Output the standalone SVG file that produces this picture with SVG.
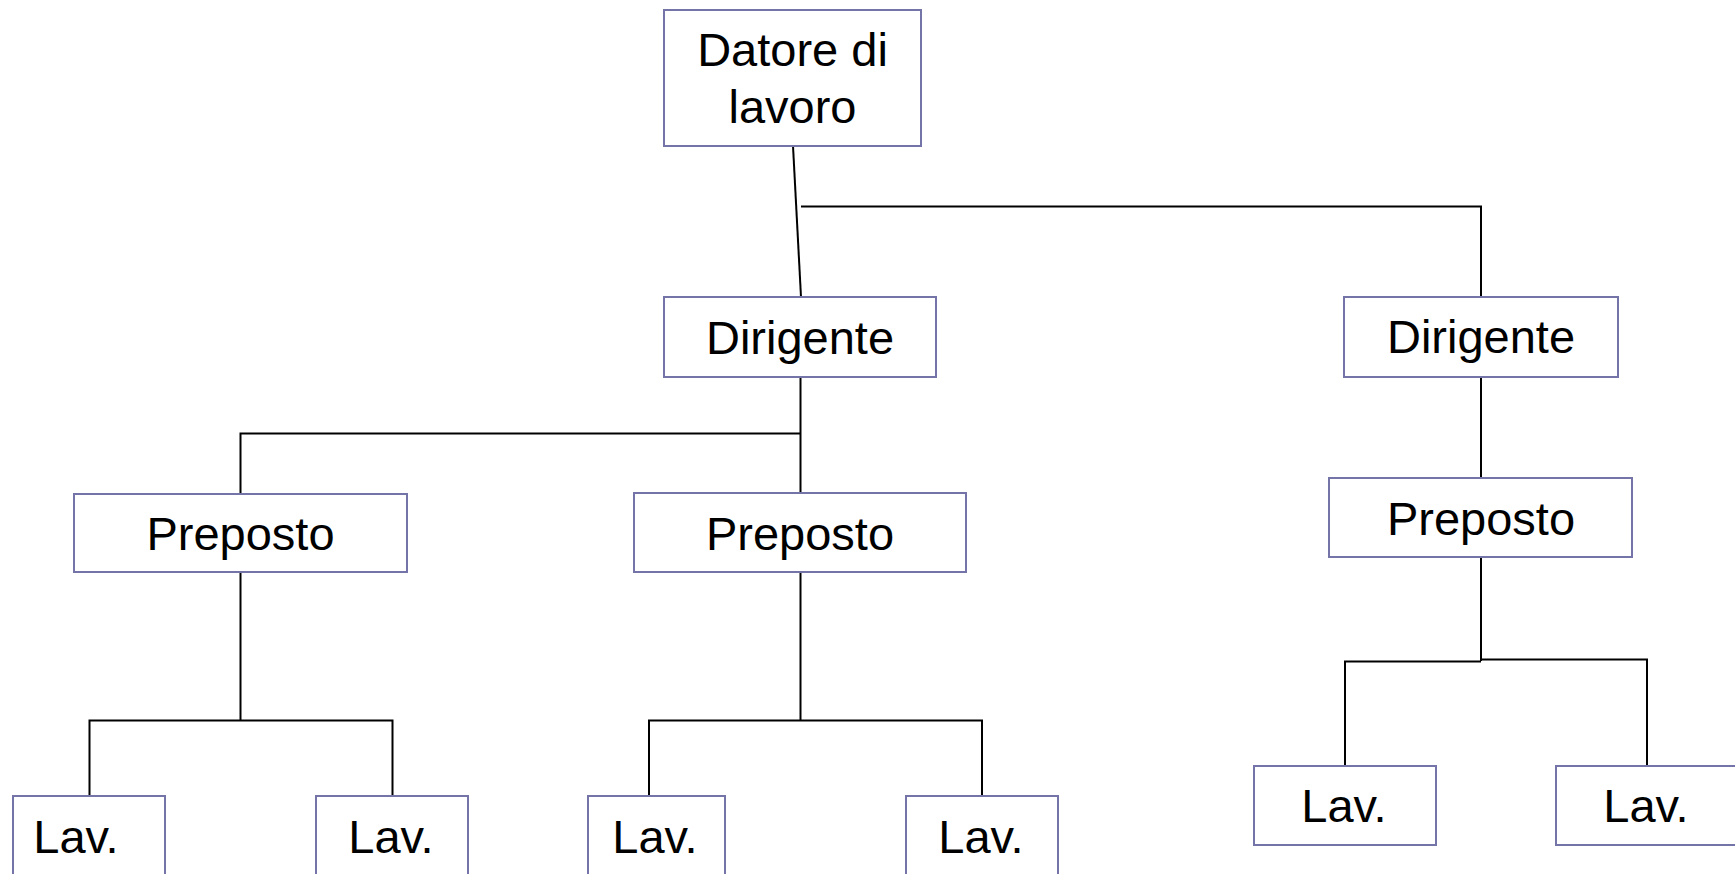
<svg xmlns="http://www.w3.org/2000/svg" width="1735" height="874" viewBox="0 0 1735 874">
<style>
.box{fill:#ffffff;stroke:#7474a8;stroke-width:2}
.lbl{font-family:"Liberation Sans",Arial,sans-serif;font-size:47px;fill:#000000;text-anchor:middle}
.con{fill:none;stroke:#000000;stroke-width:2}
</style>
<rect x="0" y="0" width="1735" height="874" fill="#ffffff"/>
<g id="connectors">
<line class="con" x1="793" y1="146" x2="801" y2="297"/>
<polyline class="con" points="801,206.5 1481,206.5 1481,297"/>
<line class="con" x1="800.5" y1="377" x2="800.5" y2="493"/>
<polyline class="con" points="800.5,433.5 240.5,433.5 240.5,494"/>
<line class="con" x1="240.5" y1="572" x2="240.5" y2="720"/>
<polyline class="con" points="89.5,796 89.5,720.5 392.5,720.5 392.5,796"/>
<line class="con" x1="800.5" y1="572" x2="800.5" y2="720"/>
<polyline class="con" points="649,796 649,720.5 982,720.5 982,796"/>
<line class="con" x1="1481" y1="377" x2="1481" y2="478"/>
<line class="con" x1="1481" y1="557" x2="1481" y2="661"/>
<polyline class="con" points="1345,766 1345,661.5 1481,661.5"/>
<polyline class="con" points="1481,659.5 1647,659.5 1647,766"/>
</g>
<g id="datore">
<rect class="box" x="664" y="10" width="257" height="136"/>
<text class="lbl" x="792.5" y="66">Datore di</text>
<text class="lbl" x="792.5" y="123">lavoro</text>
</g>
<g id="dirigente1">
<rect class="box" x="664" y="297" width="272" height="80"/>
<text class="lbl" x="800" y="354">Dirigente</text>
</g>
<g id="dirigente2">
<rect class="box" x="1344" y="297" width="274" height="80"/>
<text class="lbl" x="1481" y="353">Dirigente</text>
</g>
<g id="preposto1">
<rect class="box" x="74" y="494" width="333" height="78"/>
<text class="lbl" x="240.5" y="550">Preposto</text>
</g>
<g id="preposto2">
<rect class="box" x="634" y="493" width="332" height="79"/>
<text class="lbl" x="800" y="550">Preposto</text>
</g>
<g id="preposto3">
<rect class="box" x="1329" y="478" width="303" height="79"/>
<text class="lbl" x="1481" y="535">Preposto</text>
</g>
<g id="lav1">
<rect class="box" x="13" y="796" width="152" height="90"/>
<text class="lbl" x="76" y="853">Lav.</text>
</g>
<g id="lav2">
<rect class="box" x="316" y="796" width="152" height="90"/>
<text class="lbl" x="391" y="853">Lav.</text>
</g>
<g id="lav3">
<rect class="box" x="588" y="796" width="137" height="90"/>
<text class="lbl" x="655" y="853">Lav.</text>
</g>
<g id="lav4">
<rect class="box" x="906" y="796" width="152" height="90"/>
<text class="lbl" x="981" y="853">Lav.</text>
</g>
<g id="lav5">
<rect class="box" x="1254" y="766" width="182" height="79"/>
<text class="lbl" x="1344" y="822">Lav.</text>
</g>
<g id="lav6">
<rect class="box" x="1556" y="766" width="182" height="79"/>
<text class="lbl" x="1646" y="822">Lav.</text>
</g>
</svg>
